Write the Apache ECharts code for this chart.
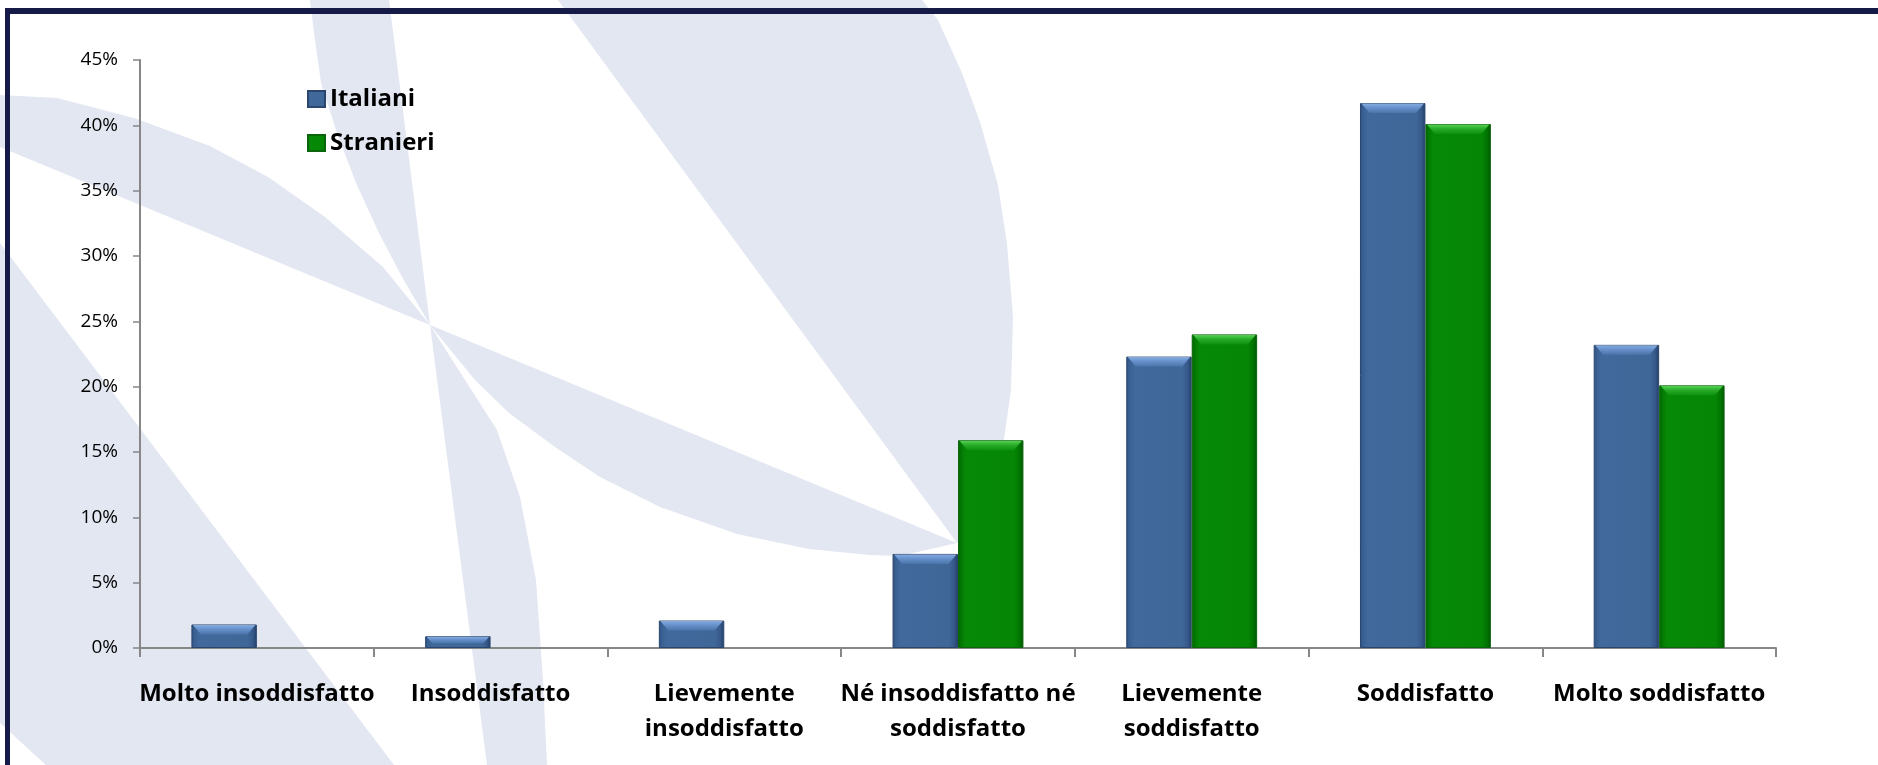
<!DOCTYPE html>
<html>
<head>
<meta charset="utf-8">
<title>Soddisfazione: Italiani e Stranieri</title>
<script src="https://cdn.jsdelivr.net/npm/echarts@6/dist/echarts.min.js"></script>
<style>
  html, body { margin: 0; padding: 0; background: #ffffff; }
  #chart { width: 1878px; height: 765px; }
</style>
</head>
<body>
<div id="chart"></div>
<script>
// Satisfaction levels (x categories)
const categories = [
  'Molto insoddisfatto',
  'Insoddisfatto',
  'Lievemente\ninsoddisfatto',
  'Né insoddisfatto né\nsoddisfatto',
  'Lievemente\nsoddisfatto',
  'Soddisfatto',
  'Molto soddisfatto'
];

// Share of respondents, in percent
const italiani  = [1.8, 0.9, 2.1, 7.2, 22.3, 41.7, 23.2];
const stranieri = [0,   0,   0,   15.9, 24.0, 40.1, 20.1];

// Value axis range
const yMin = 0;
const yMax = 45;
const yStep = 5;

const FONT = '"Open Sans", "Noto Sans", sans-serif';
const BAR_SHARE = 0.28;          // each bar's share of a category band
const CATEGORY_GAP = '44%';

const chart = echarts.init(document.getElementById('chart'), null, { renderer: 'canvas' });

function hGrad(stops) {
  return new echarts.graphic.LinearGradient(0, 0, 1, 0, stops.map(s => ({ offset: s[0], color: s[1] })));
}
function vGrad(stops) {
  return new echarts.graphic.LinearGradient(0, 0, 0, 1, stops.map(s => ({ offset: s[0], color: s[1] })));
}

const blueBody = hGrad([[0, '#2e5080'], [0.05, '#3a6193'], [0.12, '#42699b'], [0.86, '#3f6798'], [0.94, '#36598a'], [1, '#223e68']]);
const greenBody = hGrad([[0, '#006400'], [0.06, '#037c03'], [0.12, '#068906'], [0.86, '#058705'], [0.94, '#017401'], [1, '#005500']]);
const blueCap = vGrad([[0, '#8eaad0'], [0.15, '#79a3dc'], [0.45, '#6790cb'], [1, '#4a74a9']]);
const greenCap = vGrad([[0, '#62c462'], [0.15, '#43c943'], [0.45, '#2aaa2a'], [1, '#0b920b']]);

// Zero-height bars get no outline
function barData(values) {
  return values.map(v => (v === 0 ? { value: 0, itemStyle: { borderWidth: 0 } } : v));
}

// Light bevel drawn on top of each bar, positioned through the axes
function bevel(side, fill) {
  return function (params, api) {
    const idx = api.value(0);
    const val = api.value(1);
    if (!val) return null;
    const top = api.coord([idx, val]);
    const base = api.coord([idx, 0]);
    const band = api.size([1, 0])[0];
    const w = band * BAR_SHARE;
    const x0 = side < 0 ? top[0] - w : top[0];
    const x1 = x0 + w;
    const h = base[1] - top[1];
    const d = Math.min(10, h * 0.6);
    const y = top[1];
    return {
      type: 'polygon',
      shape: {
        points: [
          [x0 + 1.5, y + 0.5],
          [x1 - 1.5, y + 0.5],
          [x1 - 1.5 - d * 0.8, y + d],
          [x0 + 1.5 + d * 0.8, y + d]
        ]
      },
      style: { fill: fill },
      silent: true
    };
  };
}

// Pale decorative emblem behind the plot
const shapeFill = '#e3e7f2';
const emblem = [
  [[310,0],[314,33],[321,83],[337,133],[356,183],[379,233],[402,277],[430,325],[389,0]],
  [[430,325],[465,380],[497,430],[520,497],[536,580],[543,680],[547,765],[487,765]],
  [[0,95],[57,98],[134,118],[210,146],[268,177],[325,217],[383,267],[430,325],[0,147]],
  [[430,325],[957,543],[900,556],[869,555],[809,549],[737,534],[660,507],[600,477],[555,447],[509,413],[475,380]],
  [[558,0],[922,0],[938,20],[962,73],[980,122],[998,185],[1007,244],[1013,317],[1011,390],[1004,439],[985,500],[957,543]],
  [[0,243],[394,765],[46,765],[0,723]]
];

const graphics = emblem.map(pts => ({
  type: 'polygon',
  z: -10,
  silent: true,
  shape: { points: pts },
  style: { fill: shapeFill }
}));
// Dark frame: top rule and left rule
graphics.push({ type: 'rect', z: 100, silent: true, shape: { x: 5, y: 8, width: 1873, height: 6 }, style: { fill: '#161a46' } });
graphics.push({ type: 'rect', z: 100, silent: true, shape: { x: 5, y: 8, width: 5, height: 757 }, style: { fill: '#161a46' } });

const option = {
  backgroundColor: '#ffffff',
  animation: false,
  graphic: { elements: graphics },
  grid: { left: 140, right: 102, top: 60, bottom: 117, containLabel: false },
  legend: {
    data: ['Italiani', 'Stranieri'],
    orient: 'vertical',
    left: 307,
    top: 87,
    padding: 0,
    itemWidth: 17,
    itemHeight: 16,
    itemGap: 20,
    icon: 'rect',
    textStyle: { fontFamily: FONT, fontSize: 24, fontWeight: 'bold', color: '#000', lineHeight: 24 }
  },
  xAxis: {
    type: 'category',
    data: categories,
    boundaryGap: true,
    axisLine: { lineStyle: { color: '#878787', width: 2 } },
    axisTick: { show: true, length: 9, lineStyle: { color: '#878787', width: 2 } },
    axisLabel: {
      interval: 0,
      margin: 29,
      fontFamily: FONT,
      fontSize: 24,
      fontWeight: 'bold',
      color: '#000',
      lineHeight: 35
    },
    splitLine: { show: false }
  },
  yAxis: {
    type: 'value',
    min: yMin,
    max: yMax,
    interval: yStep,
    axisLine: { show: true, lineStyle: { color: '#878787', width: 2 } },
    axisTick: { show: true, length: 7, lineStyle: { color: '#878787', width: 1.5 } },
    axisLabel: {
      margin: 22,
      fontFamily: FONT,
      fontSize: 19,
      color: '#000',
      formatter: '{value}%'
    },
    splitLine: { show: false }
  },
  series: [
    {
      name: 'Italiani',
      type: 'bar',
      data: barData(italiani),
      barGap: '0%',
      barCategoryGap: CATEGORY_GAP,
      itemStyle: { color: blueBody, borderColor: '#2a466e', borderWidth: 1 },
      z: 2
    },
    {
      name: 'Stranieri',
      type: 'bar',
      data: barData(stranieri),
      barGap: '0%',
      barCategoryGap: CATEGORY_GAP,
      itemStyle: { color: greenBody, borderColor: '#0b650b', borderWidth: 1 },
      z: 2
    },
    {
      name: 'Italiani bevel',
      type: 'custom',
      data: italiani.map((v, i) => [i, v]),
      renderItem: bevel(-1, blueCap),
      encode: { x: 0, y: 1 },
      z: 3,
      silent: true
    },
    {
      name: 'Stranieri bevel',
      type: 'custom',
      data: stranieri.map((v, i) => [i, v]),
      renderItem: bevel(1, greenCap),
      encode: { x: 0, y: 1 },
      z: 3,
      silent: true
    }
  ]
};

chart.setOption(option);
</script>
</body>
</html>
